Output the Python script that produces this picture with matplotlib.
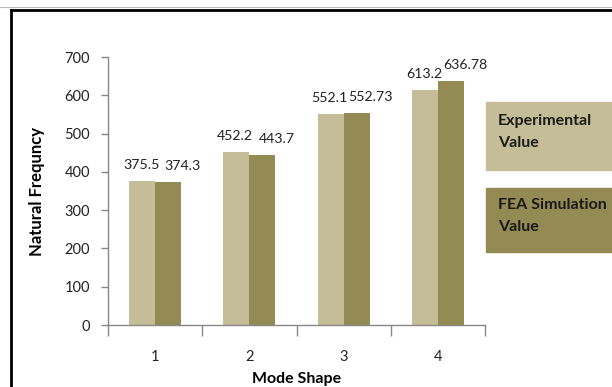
import numpy as np
import matplotlib.pyplot as plt
from matplotlib.patches import Rectangle
from matplotlib.lines import Line2D

# Natural frequency per mode shape
modes = ['1', '2', '3', '4']
experimental = [375.5, 452.2, 552.1, 613.2]
fea_simulation = [374.3, 443.7, 552.73, 636.78]
exp_labels = ['375.5', '452.2', '552.1', '613.2']
fea_labels = ['374.3', '443.7', '552.73', '636.78']

light = '#C4BD97'
dark = '#948A54'
plt.rcParams['font.family'] = ['Lato', 'DejaVu Sans']

fig = plt.figure(figsize=(6.12, 3.87), dpi=100)
ax = fig.add_axes([0.1765, 0.1602, 0.616, 0.6925])

x = np.arange(1, len(modes) + 1)
w = 0.277
b1 = ax.bar(x - w / 2, experimental, w, color=light)
b2 = ax.bar(x + w / 2, fea_simulation, w, color=dark)

for rect, lab in zip(b1, exp_labels):
    ax.annotate(lab, (rect.get_x() + rect.get_width() / 2, rect.get_height()),
                xytext=(-1, 16), textcoords='offset pixels',
                ha='center', va='center', fontsize=10.2, color='#222222')
for rect, lab in zip(b2, fea_labels):
    ax.annotate(lab, (rect.get_x() + rect.get_width() / 2, rect.get_height()),
                xytext=(14, 16), textcoords='offset pixels',
                ha='center', va='center', fontsize=10.2, color='#222222')

ax.set_xlim(0.5, 4.5)
ax.set_ylim(0, 700)
ax.set_yticks(range(0, 701, 100))
ax.set_xticks(x)
ax.set_xticklabels(modes)
ax.set_xticks(np.arange(0.5, 4.6, 1.0), minor=True)
ax.tick_params(axis='x', which='major', length=0, pad=18, labelsize=10.5, labelcolor='#222222')
ax.tick_params(axis='x', which='minor', length=8, width=1, color='#888888', direction='out')
ax.tick_params(axis='y', length=5, width=1, color='#888888', direction='out', pad=8,
               labelsize=10.5, labelcolor='#222222')

for s in ['top', 'right']:
    ax.spines[s].set_visible(False)
for s in ['left', 'bottom']:
    ax.spines[s].set_color('#888888')
    ax.spines[s].set_linewidth(1)

ax.set_xlabel('Mode Shape', fontsize=11.5, fontweight='bold', labelpad=6)
ax.set_ylabel('Natural Frequncy', fontsize=12, fontweight='bold', labelpad=14)

# legend boxes at the right
fig.patches.append(Rectangle((486 / 612, 1 - 170 / 387), 126 / 612, 68 / 387,
                             transform=fig.transFigure, color=light, zorder=0))
fig.patches.append(Rectangle((486 / 612, 1 - 252 / 387), 126 / 612, 64 / 387,
                             transform=fig.transFigure, color=dark, zorder=0))
fig.text(498 / 612, 1 - 132 / 387, 'Experimental\nValue', fontsize=11.5, fontweight='bold',
         color='#1a1a1a', va='center', ha='left', linespacing=1.65)
fig.text(498 / 612, 1 - 216 / 387, 'FEA Simulation\nValue', fontsize=11.5, fontweight='bold',
         color='#1a1a1a', va='center', ha='left', linespacing=1.65)

# outer frame
fig.add_artist(Line2D([0, 1], [1 - 7 / 387, 1 - 7 / 387], transform=fig.transFigure,
                      color='#bbbbbb', lw=0.8))
fig.add_artist(Line2D([11 / 612, 1], [1 - 10 / 387, 1 - 10 / 387], transform=fig.transFigure,
                      color='black', lw=2))
fig.add_artist(Line2D([11 / 612, 11 / 612], [0, 1 - 10 / 387], transform=fig.transFigure,
                      color='black', lw=2))

fig.savefig('out.png', dpi=100)
